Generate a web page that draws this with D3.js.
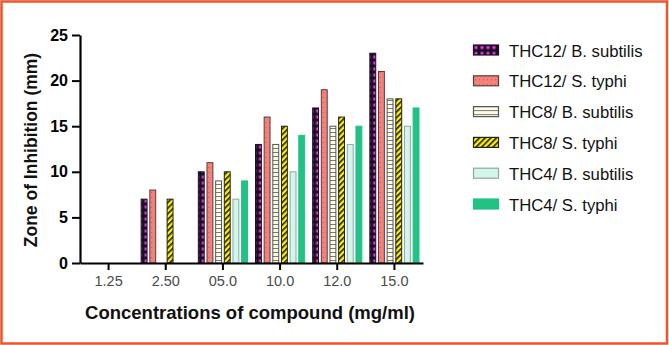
<!DOCTYPE html>
<html>
<head>
<meta charset="utf-8">
<script src="https://cdn.jsdelivr.net/npm/d3@7/dist/d3.min.js"></script>
<style>
  html, body { margin: 0; padding: 0; background: #fff; }
  svg { display: block; }
</style>
</head>
<body>
<svg id="chart" width="669" height="345"></svg>
<script>
const concentrations = ["1.25", "2.50", "05.0", "10.0", "12.0", "15.0"];
const seriesNames = ["THC12/ B. subtilis", "THC12/ S. typhi", "THC8/ B. subtilis", "THC8/ S. typhi", "THC4/ B. subtilis", "THC4/ S. typhi"];
const thc12Bs = [0, 7, 10, 13, 17, 23];
const thc12St = [0, 8, 11, 16, 19, 21];
const thc8Bs  = [0, 0, 9, 13, 15, 18];
const thc8St  = [0, 7, 10, 15, 16, 18];
const thc4Bs  = [0, 0, 7, 10, 13, 15];
const thc4St  = [0, 0, 9, 14, 15, 17];
const yTicks = [0, 5, 10, 15, 20, 25];

const seriesValues = [thc12Bs, thc12St, thc8Bs, thc8St, thc4Bs, thc4St];
const rows = concentrations.map((c, i) => ({
  conc: c,
  vals: seriesNames.map((s, k) => ({ key: s, k, v: seriesValues[k][i] }))
}));

const W = 669, H = 345;
const m = { left: 80, right: 246, top: 35, bottom: 82 };
const FONT = "Arial, 'Liberation Sans', Helvetica, sans-serif";

const svg = d3.select("#chart");
const defs = svg.append("defs");

// patterns
const pCheck = defs.append("pattern").attr("id", "p0").attr("patternUnits", "userSpaceOnUse")
  .attr("width", 6).attr("height", 6);
pCheck.append("rect").attr("width", 6).attr("height", 6).attr("fill", "#1c0f24");
pCheck.append("rect").attr("x", 1.5).attr("y", 1.5).attr("width", 3).attr("height", 3).attr("fill", "#e83de6");

const pDots = defs.append("pattern").attr("id", "p1").attr("patternUnits", "userSpaceOnUse")
  .attr("width", 4).attr("height", 5);
pDots.append("rect").attr("width", 4).attr("height", 5).attr("fill", "#f4827c");
pDots.append("rect").attr("x", 2).attr("y", 2).attr("width", 1).attr("height", 1).attr("fill", "#c4524e");

const pLines = defs.append("pattern").attr("id", "p2").attr("patternUnits", "userSpaceOnUse")
  .attr("width", 4).attr("height", 4);
pLines.append("rect").attr("width", 4).attr("height", 4).attr("fill", "#fdfbe8");
pLines.append("line").attr("x1", 0).attr("x2", 4).attr("y1", 0.5).attr("y2", 0.5)
  .attr("stroke", "#7a7a70").attr("stroke-width", 1);

const pDiag = defs.append("pattern").attr("id", "p3").attr("patternUnits", "userSpaceOnUse")
  .attr("width", 4).attr("height", 4).attr("patternTransform", "rotate(45)");
pDiag.append("rect").attr("width", 4).attr("height", 4).attr("fill", "#fff200");
pDiag.append("rect").attr("width", 1.6).attr("height", 4).attr("fill", "#1a1a1a");

const fills = ["url(#p0)", "url(#p1)", "url(#p2)", "url(#p3)", "#d3f6ec", "#22c184"];
const strokes = ["#1c0f24", "#5a3a3a", "#555", "#222", "#8fa8a0", "#22c184"];

// frame
svg.append("rect").attr("x", 1.5).attr("y", 1.5).attr("width", W - 3.5).attr("height", H - 3)
  .attr("fill", "none").attr("stroke", "#f0542a").attr("stroke-width", 2.5);

const x0 = d3.scaleBand().domain(concentrations).range([m.left, W - m.right]).padding(0);
const x1 = d3.scaleBand().domain(seriesNames).range([4, x0.bandwidth() - 4]).paddingInner(0.32);
const y = d3.scaleLinear().domain([0, 25]).range([H - m.bottom, m.top]);

// bars
const groups = svg.append("g").selectAll("g").data(rows).join("g")
  .attr("transform", d => `translate(${x0(d.conc)},0)`);
groups.selectAll("rect").data(d => d.vals.filter(e => e.v > 0)).join("rect")
  .attr("x", d => x1(d.key))
  .attr("y", d => y(d.v))
  .attr("width", x1.bandwidth())
  .attr("height", d => y(0) - y(d.v))
  .attr("fill", d => fills[d.k])
  .attr("stroke", d => strokes[d.k])
  .attr("stroke-width", 1);

// axes
svg.append("g")
  .attr("transform", `translate(0,${y(0)})`)
  .call(d3.axisBottom(x0).tickSize(7).tickSizeOuter(0).tickPadding(6))
  .call(ax => {
    ax.select(".domain").attr("stroke", "#000").attr("stroke-width", 2.2);
    ax.selectAll(".tick line").attr("stroke", "#000").attr("stroke-width", 2);
    ax.selectAll(".tick text").style("fill", "#4a4a4a").style("font-size", "14.5px").style("font-family", FONT);
  });

svg.append("g")
  .attr("transform", `translate(${m.left},0)`)
  .call(d3.axisLeft(y).tickValues(yTicks).tickSize(8).tickSizeOuter(0).tickPadding(4))
  .call(ax => {
    ax.select(".domain").attr("stroke", "#000").attr("stroke-width", 2.2);
    ax.selectAll(".tick line").attr("stroke", "#000").attr("stroke-width", 2);
    ax.selectAll(".tick text").style("fill", "#000").style("font-size", "16px").style("font-weight", "bold").style("font-family", FONT);
  });

// axis titles
svg.append("text")
  .attr("transform", `translate(37,${(m.top + H - m.bottom) / 2 + 1}) rotate(-90)`)
  .attr("text-anchor", "middle")
  .style("font-family", FONT).style("font-size", "17.5px").style("font-weight", "bold").style("fill", "#111")
  .text("Zone of Inhibition (mm)");

svg.append("text")
  .attr("x", 250).attr("y", 319)
  .attr("text-anchor", "middle")
  .style("font-family", FONT).style("font-size", "18.5px").style("font-weight", "bold").style("fill", "#111")
  .text("Concentrations of compound (mg/ml)");

// legend
const leg = svg.append("g").selectAll("g").data(seriesNames).join("g")
  .attr("transform", (d, i) => `translate(473,${56.5 + i * 30.8})`);
leg.append("rect")
  .attr("x", 0.5).attr("y", -11.5).attr("width", 25).attr("height", 10)
  .attr("fill", (d, i) => fills[i]).attr("stroke", (d, i) => strokes[i]).attr("stroke-width", 1.2);
leg.append("text")
  .attr("x", 36).attr("y", 0)
  .style("font-family", FONT).style("font-size", "16.7px").style("fill", "#111")
  .text(d => d);
</script>
</body>
</html>
